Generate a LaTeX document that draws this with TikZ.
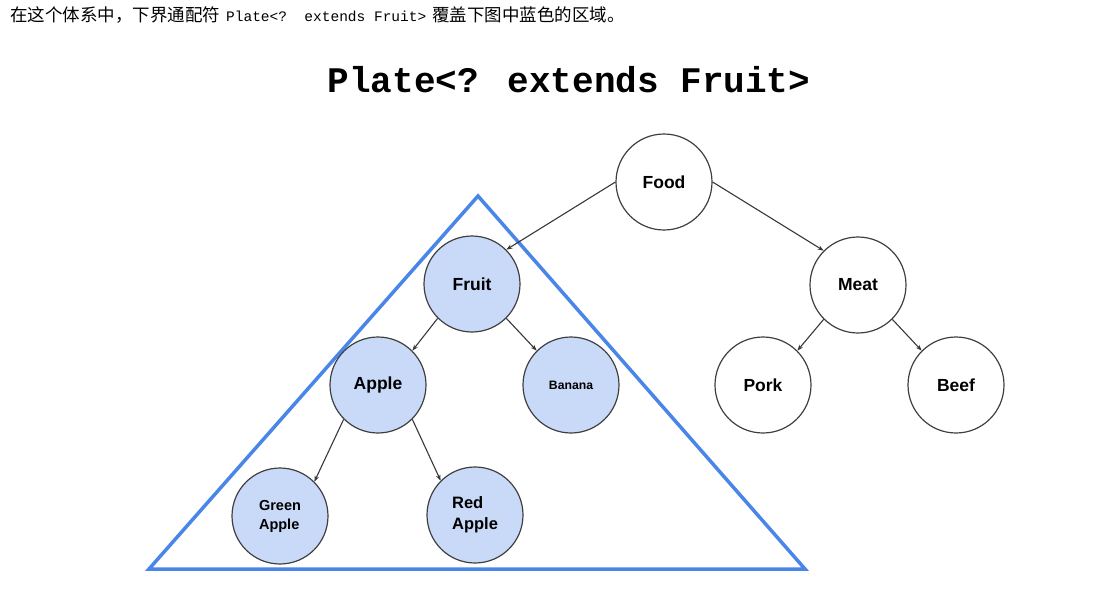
\documentclass[tikz,border=0pt]{standalone}
\usepackage{fontspec}
\setmainfont{Liberation Sans}
\newfontfamily\cjk{Noto Sans CJK SC}
\newfontfamily\codefont{Liberation Mono}
\usetikzlibrary{positioning,arrows.meta}

\definecolor{triblue}{RGB}{74,134,232}
\definecolor{nodeblue}{RGB}{201,218,248}

\begin{document}
\begin{tikzpicture}[x=1pt,y=-1pt,on grid,
    class/.style={circle,draw=black!75,line width=1.2pt,minimum size=96pt,inner sep=0pt,fill=white,
      font=\fontsize{17.5}{20}\selectfont\bfseries},
    sub/.style={class,fill=nodeblue},
    link/.style={black!78,line width=1.1pt,-{Stealth[length=6pt,width=4.5pt]}}]
   \useasboundingbox (0,0) rectangle (1103,597);
   \node[anchor=base west,inner sep=0pt] (intro) at (10,21)
     {\fontsize{17.5}{19}\selectfont\cjk 在这个体系中，下界通配符\hspace{6pt}{\codefont\fontsize{14.5}{18}\selectfont Plate<?\ \ extends Fruit>}\hspace{6pt}覆盖下图中蓝色的区域。};
   \node (title) at (569,80) {\codefont\bfseries\fontsize{36}{36}\selectfont Plate<? extends Fruit>};
   % the blue region
   \coordinate (apex) at (478,196);
   \coordinate (left) at (149,569);
   \coordinate (right) at (805,569);
   \draw[triblue,line width=3.5pt,line join=miter] (apex) -- (right) -- (left) -- cycle;
   \node[class] (food) at (664,182) {Food};
   \node[sub] (fruit) [below left=102pt and 192pt of food] {Fruit};
   \node[class] (meat) [below right=103pt and 194pt of food] {Meat};
   \node[sub] (apple) [below left=101pt and 94pt of fruit] {Apple};
   \node[sub,font=\fontsize{12.2}{14}\selectfont\bfseries] (banana) [below right=101pt and 99pt of fruit] {Banana};
   \node[class] (pork) [below left=100pt and 95pt of meat] {Pork};
   \node[class] (beef) [below right=100pt and 98pt of meat] {Beef};
   \node[sub,align=left,font=\fontsize{14.5}{19}\selectfont\bfseries] (greenapple) [below left=131pt and 98pt of apple] {Green\\Apple};
   \node[sub,align=left,font=\fontsize{16.5}{21}\selectfont\bfseries] (redapple) [below right=130pt and 97pt of apple] {Red\\Apple};
   \path[link]
    (food.west) edge (fruit.north east)
    (food.east) edge (meat.north west)
    (fruit.south west) edge (apple.north east)
    (fruit.south east) edge (banana.north west)
    (meat.south west) edge (pork.north east)
    (meat.south east) edge (beef.north west)
    (apple.south west) edge (greenapple.north east)
    (apple.south east) edge (redapple.north west)
    ;
\end{tikzpicture}
\end{document}
